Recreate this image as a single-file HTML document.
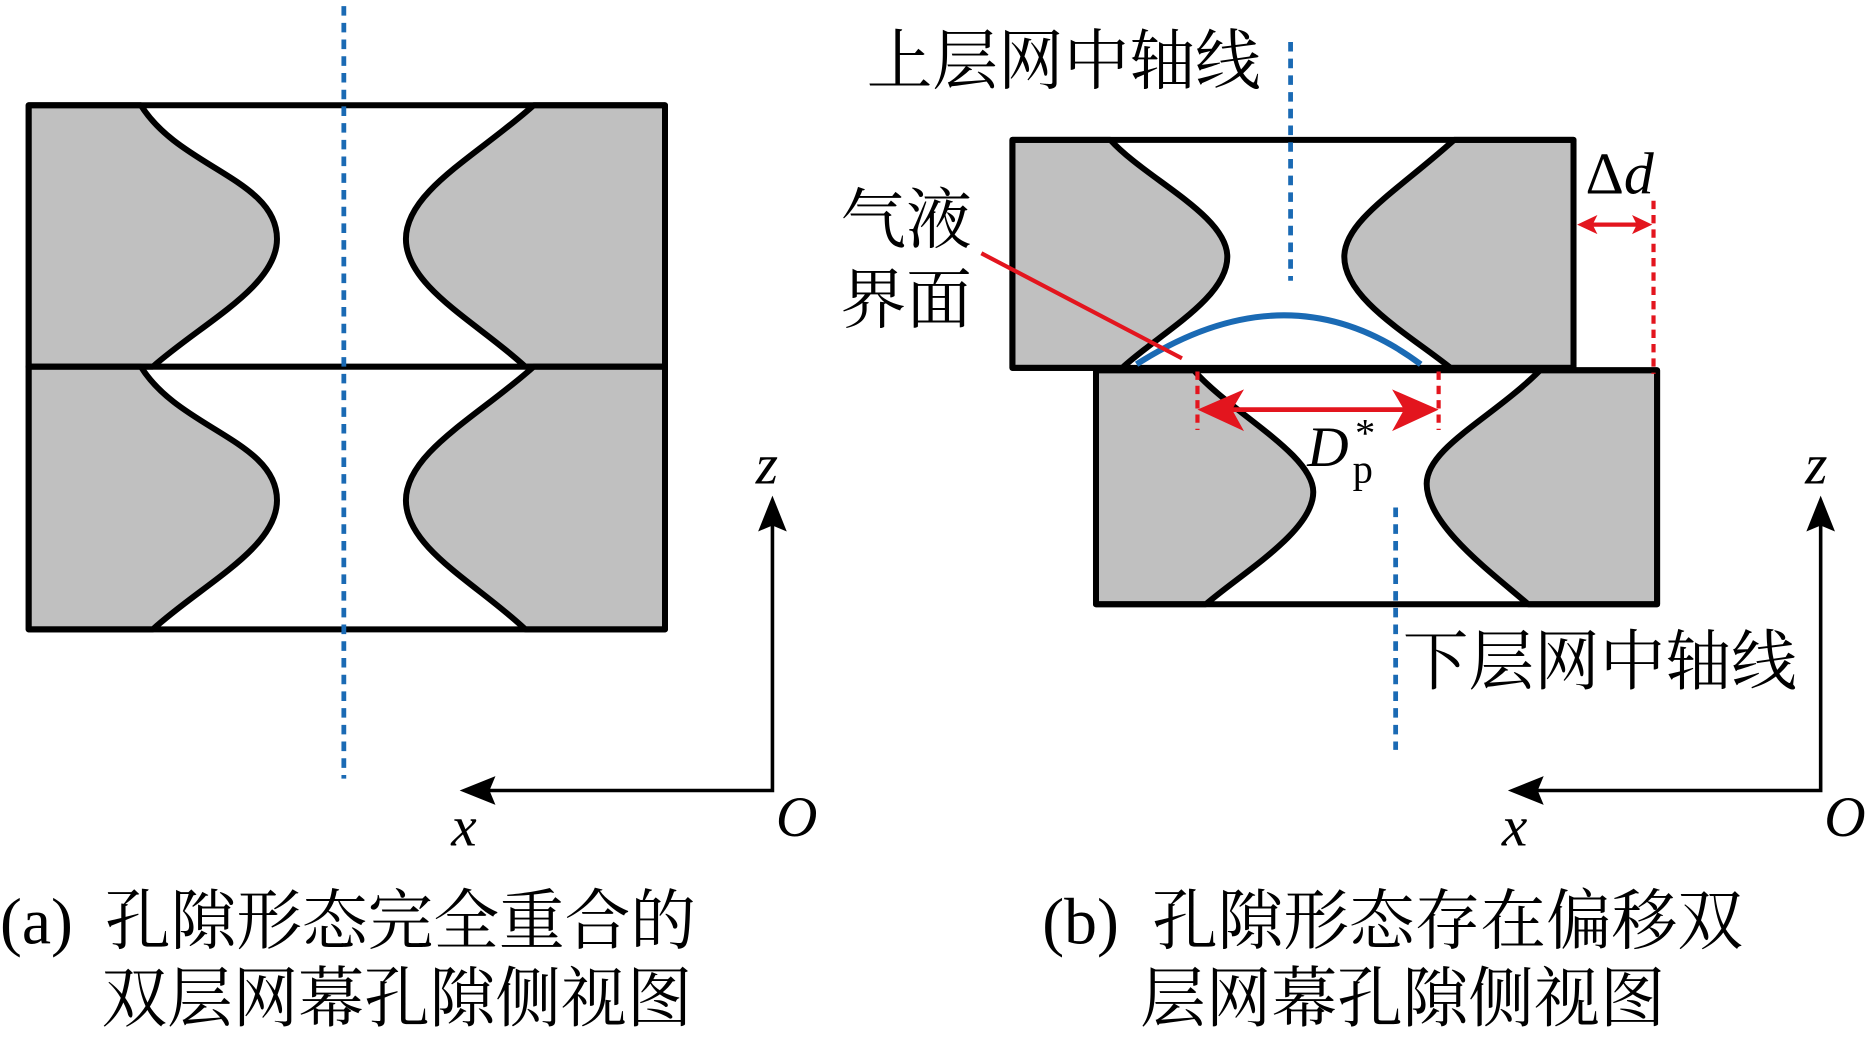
<!DOCTYPE html>
<html><head><meta charset="utf-8"><style>
html,body{margin:0;padding:0;background:#fff;width:1872px;height:1039px;overflow:hidden}
svg{display:block}
.cn{font-family:"Liberation Serif","Noto Serif CJK SC",serif;font-size:55px;fill:#000}
.it{font-family:"Liberation Serif",serif;font-style:italic;font-size:48px;fill:#000}
</style></head><body>
<svg width="1872" height="1039" viewBox="0 0 1568 870" xmlns="http://www.w3.org/2000/svg">
<g stroke="#000" stroke-width="5" fill="#c0c0c0" stroke-linejoin="round">
<path d="M24,88 L118,88 C150,140 232,150 232,200 C232,240 170,270 128,307 L24,307 Z"/>
<path d="M557,88 L447,88 C400,130 340,160 340,200 C340,240 400,270 440,307 L557,307 Z"/>
<path d="M24,307 L118,307 C150,359 232,369 232,419 C232,459 170,489 128,527 L24,527 Z"/>
<path d="M557,307 L447,307 C400,349 340,379 340,419 C340,459 400,489 440,527 L557,527 Z"/>
<rect x="24" y="88" width="533" height="219" fill="none"/>
<rect x="24" y="307" width="533" height="220" fill="none"/>
<path d="M848,117 L930,117 C960,150 1028,180 1028,215 C1028,250 970,280 940,308 L848,308 Z"/>
<path d="M1318,117 L1218,117 C1170,160 1126,185 1126,215 C1126,250 1180,280 1215,308 L1318,308 Z"/>
<path d="M918,310 L1000,310 C1030,345 1100,380 1100,412 C1100,445 1040,480 1010,506 L918,506 Z"/>
<path d="M1388,310 L1290,310 C1250,350 1195,375 1195,405 C1195,440 1250,480 1280,506 L1388,506 Z"/>
<rect x="848" y="117" width="470" height="191" fill="none"/>
<rect x="918" y="310" width="470" height="196" fill="none"/>
</g>
<path d="M952,305 Q1080,223 1190,305" stroke="#1a6ab4" stroke-width="5" fill="none"/>
<g stroke="#1a6ab4" stroke-width="4" stroke-dasharray="8,6">
<line x1="288" y1="5" x2="288" y2="652"/>
<line x1="1081" y1="35" x2="1081" y2="235"/>
<line x1="1169" y1="425" x2="1169" y2="628"/>
</g>
<g stroke="#e3151e" stroke-width="3.5" fill="#e3151e">
<line x1="822" y1="212" x2="990" y2="300"/>
<line x1="1003" y1="311" x2="1003" y2="360" stroke-dasharray="7,5"/>
<line x1="1205" y1="311" x2="1205" y2="360" stroke-dasharray="7,5"/>
<line x1="1385" y1="168" x2="1385" y2="313" stroke-dasharray="7,5"/>
<line x1="1020" y1="343" x2="1188" y2="343" stroke-width="4"/>
<path d="M1003,343 L1042,326 L1032,343 L1042,361Z" stroke="none"/>
<path d="M1205,343 L1166,326 L1176,343 L1166,361Z" stroke="none"/>
<line x1="1330" y1="188" x2="1375" y2="188"/>
<path d="M1321,188 L1338,180 L1334,188 L1338,196Z" stroke="none"/>
<path d="M1384,188 L1367,180 L1371,188 L1367,196Z" stroke="none"/>
</g>
<g stroke="#000" stroke-width="3" fill="none">
<polyline points="647,440 647,662 400,662"/>
<polyline points="1525,440 1525,662 1280,662"/>
</g>
<path d="M647,415 L635,445 L647,440 L659,445Z M385,662 L415,650 L410,662 L415,674Z"/>
<path d="M1525,415 L1513,445 L1525,440 L1537,445Z M1263,662 L1293,650 L1288,662 L1293,674Z"/>
<text class="it" x="633" y="405">z</text>
<text class="it" x="378" y="708">x</text>
<text class="it" x="650" y="700">O</text>
<text class="it" x="1512" y="405">z</text>
<text class="it" x="1258" y="708">x</text>
<text class="it" x="1528" y="700">O</text>
<text class="it" x="1095" y="390" font-size="50">D</text>
<text x="1133" y="404" style="font-family:'Liberation Serif',serif;font-size:34px">p</text>
<text x="1135" y="374" style="font-family:'Liberation Serif',serif;font-size:34px">*</text>
<text x="1328" y="162" style="font-family:'Liberation Serif',serif;font-size:50px">Δ<tspan font-style="italic">d</tspan></text>
<text class="cn" x="726" y="70">上层网中轴线</text>
<text class="cn" x="1175" y="573">下层网中轴线</text>
<text class="cn" x="704" y="203">气液</text>
<text class="cn" x="704" y="270">界面</text>
<text class="cn" x="0" y="790">(a)</text>
<text class="cn" x="88" y="790">孔隙形态完全重合的</text>
<text class="cn" x="85" y="855">双层网幕孔隙侧视图</text>
<text class="cn" x="873" y="790">(b)</text>
<text class="cn" x="965" y="790">孔隙形态存在偏移双</text>
<text class="cn" x="955" y="855">层网幕孔隙侧视图</text>
</svg>
</body></html>
